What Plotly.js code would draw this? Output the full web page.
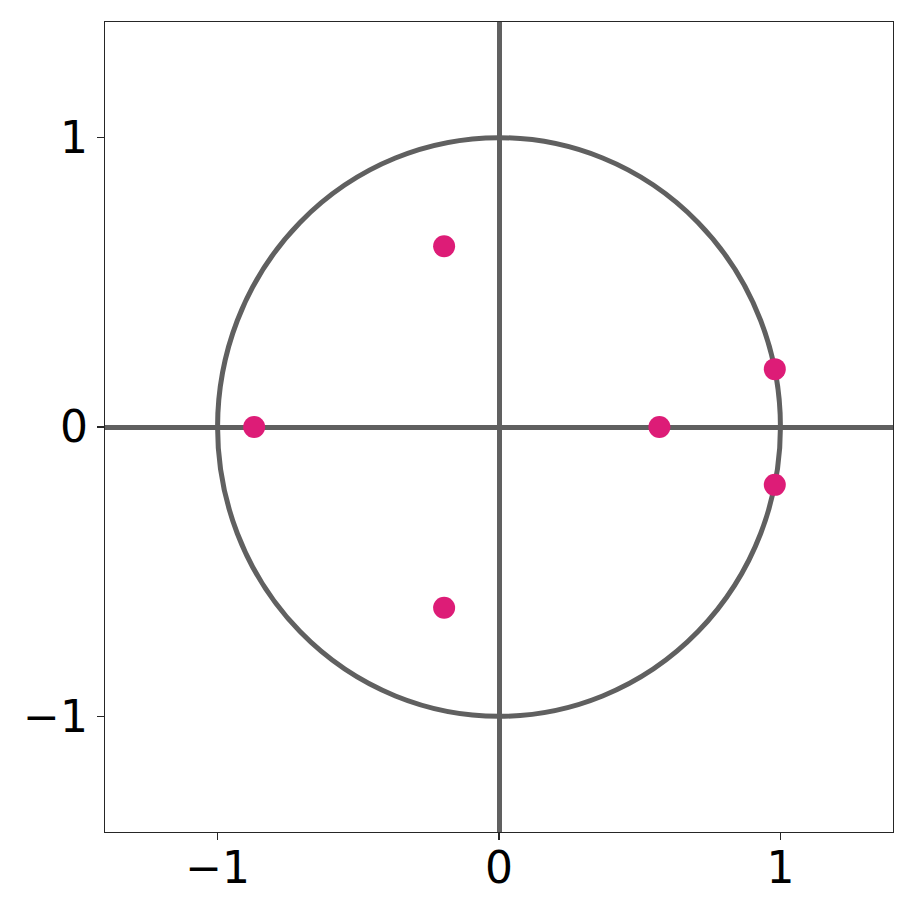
<!DOCTYPE html>
<html>
<head>
<meta charset="utf-8">
<script src="https://cdn.plot.ly/plotly-3.0.1.min.js"></script>
<style>html,body{margin:0;padding:0;background:#fff;}#plot{width:915px;height:915px;}</style>
</head>
<body>
<div id="plot"></div>
<script>
// Pole/zero locations
const pointsX = [-0.87, -0.195, -0.195, 0.57, 0.98, 0.98];
const pointsY = [0.0, 0.625, -0.625, 0.0, 0.2, -0.2];
const tickVals = [-1, 0, 1];
const axisRange = [-1.4, 1.4];
const circleRadius = 1;

const lineColor = '#606060';
const axisCommon = {
  range: axisRange,
  tickvals: tickVals,
  ticks: 'outside',
  ticklen: 7,
  tickwidth: 1.3,
  tickcolor: '#262626',
  showgrid: false,
  zeroline: true,
  zerolinecolor: lineColor,
  zerolinewidth: 5,
  showline: true,
  mirror: true,
  linecolor: '#262626',
  linewidth: 1.3,
  tickfont: {family: 'DejaVu Sans', size: 44, color: '#000'},
  fixedrange: true
};

const trace = {
  x: pointsX,
  y: pointsY,
  type: 'scatter',
  mode: 'markers',
  marker: {color: '#DD1C77', size: 22},
  hoverinfo: 'none'
};

const layout = {
  width: 915,
  height: 915,
  margin: {l: 105, r: 22, t: 22, b: 83},
  paper_bgcolor: '#fff',
  plot_bgcolor: '#fff',
  showlegend: false,
  xaxis: Object.assign({}, axisCommon, {ticklabelstandoff: -10}),
  yaxis: Object.assign({}, axisCommon),
  shapes: [{
    type: 'circle', xref: 'x', yref: 'y',
    x0: -circleRadius, y0: -circleRadius, x1: circleRadius, y1: circleRadius,
    line: {color: lineColor, width: 5},
    layer: 'below'
  }]
};

Plotly.newPlot('plot', [trace], layout, {staticPlot: true});
</script>
</body>
</html>
